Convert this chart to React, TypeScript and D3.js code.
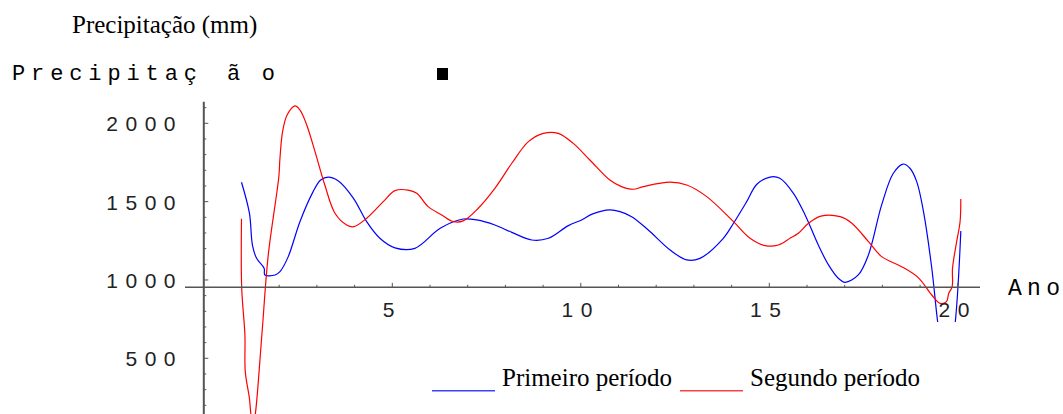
import React from "react";
import * as d3 from "d3";

// precipitação anual (mm) por ano
const primeiroPeriodo: [number, number][] = [
  [1.0, 1624], [1.21, 1426], [1.29, 1223], [1.4, 1138], [1.6, 1075], [1.62, 1032],
  [1.89, 1032], [2.02, 1053], [2.24, 1149], [2.55, 1372], [2.9, 1564], [3.1, 1638],
  [3.3, 1656], [3.57, 1632], [3.97, 1521], [4.32, 1372], [4.67, 1266], [5.07, 1205],
  [5.6, 1202], [6.27, 1330], [6.88, 1389], [7.24, 1383], [7.72, 1351], [8.17, 1304],
  [8.7, 1255], [9.14, 1266], [9.67, 1347], [10.02, 1383], [10.3, 1420], [10.77, 1447],
  [11.04, 1436], [11.35, 1404], [11.79, 1319], [12.37, 1191], [12.81, 1128], [13.16, 1138],
  [13.78, 1266], [14.05, 1362], [14.4, 1500], [14.67, 1611], [15.02, 1657], [15.28, 1649],
  [15.64, 1553], [15.95, 1415], [16.3, 1223], [16.57, 1096], [16.83, 1011], [17.01, 985],
  [17.36, 1032], [17.63, 1160], [17.98, 1479], [18.29, 1681], [18.55, 1740], [18.73, 1713],
  [18.91, 1628], [19.09, 1436], [19.31, 1075], [19.47, 724], [19.7, 350], [19.93, 724],
  [20.08, 1313],
];

const segundoPeriodo: [number, number][] = [
  [1.0, 1390], [1.005, 950], [1.09, 650], [1.1, 415], [1.21, 245], [1.26, 120],
  [1.31, 70], [1.37, 150], [1.54, 649], [1.71, 1160], [1.99, 1659], [2.02, 1777],
  [2.09, 1947], [2.21, 2053], [2.42, 2111], [2.55, 2085], [2.73, 1989], [2.95, 1819],
  [3.21, 1606], [3.48, 1426], [3.79, 1351], [3.98, 1340], [4.32, 1394], [4.76, 1500],
  [5.07, 1570], [5.42, 1574], [5.65, 1553], [5.95, 1468], [6.31, 1415], [6.62, 1372],
  [6.88, 1377], [7.28, 1458], [7.72, 1585], [8.17, 1745], [8.61, 1883], [9.01, 1936],
  [9.4, 1936], [9.8, 1872], [10.24, 1766], [10.77, 1638], [11.08, 1596], [11.39, 1579],
  [11.66, 1596], [12.37, 1624], [12.81, 1606], [13.34, 1532], [14.05, 1372], [14.49, 1266],
  [14.89, 1219], [15.24, 1223], [15.55, 1266], [15.77, 1298], [16.04, 1362], [16.37, 1408],
  [16.88, 1404], [17.19, 1362], [17.63, 1245], [17.98, 1149], [18.51, 1085], [18.95, 1015],
  [19.31, 904], [19.53, 851], [19.7, 862], [19.76, 915], [19.85, 957], [19.86, 1075],
  [19.97, 1245], [20.06, 1372], [20.08, 1517],
];

const xTickLabels = [5, 10, 15, 20];
const yTickLabels = [500, 1000, 1500, 2000];
const legendLabels = ["Primeiro período", "Segundo período"];

const W = 1063;
const H = 414;
const axisColor = "#555";
const digitFont = "'Liberation Sans', Arial, sans-serif";
const monoFont = "'Liberation Mono', 'Courier New', monospace";
const serifFont = "'Liberation Serif', 'Times New Roman', serif";

export default function App() {
  const x = d3.scaleLinear().domain([0, 20]).range([203.8, 957.8]);
  const y = d3.scaleLinear().domain([500, 2000]).range([358.3, 123.3]);
  const xAxisAt = 953;

  const line = d3
    .line<[number, number]>()
    .x((d) => x(d[0]))
    .y((d) => y(d[1]))
    .curve(d3.curveCatmullRom.alpha(0.5));

  const yMinor = d3.range(200, 2101, 100);
  const xMinor = d3.range(1, 21, 1);

  return (
    <svg
      width={W}
      height={H}
      style={{ position: "absolute", left: 0, top: 0, background: "#fff" }}
    >
      <text x={72} y={33} fontFamily={serifFont} fontSize={25} fill="#000">
        Precipitação (mm)
      </text>
      <text x={12} y={80} fontFamily={monoFont} fontSize={22} textLength={185} lengthAdjust="spacing" fill="#000">
        Precipitaç
      </text>
      <text x={227} y={80} fontFamily={monoFont} fontSize={22} textLength={48} lengthAdjust="spacing" fill="#000">
        ão
      </text>
      <rect x={437} y={68} width={11} height={12} fill="#000" />

      {/* curves */}
      <path d={line(primeiroPeriodo) || ""} fill="none" stroke="#0000ff" strokeWidth={1.2} />
      <path d={line(segundoPeriodo) || ""} fill="none" stroke="#ff0000" strokeWidth={1.2} />

      {/* y axis */}
      <line x1={x(0)} x2={x(0)} y1={101.7} y2={H} stroke={axisColor} strokeWidth={2} />
      {yMinor.map((v) => (
        <line
          key={"ym" + v}
          x1={x(0)}
          x2={x(0) + (v % 500 === 0 ? 4.5 : 2.5)}
          y1={y(v)}
          y2={y(v)}
          stroke={axisColor}
          strokeWidth={1}
        />
      ))}
      {yTickLabels.map((v) => (
        <text
          key={"yl" + v}
          x={183}
          y={y(v) + 8}
          textAnchor="end"
          fontFamily={digitFont}
          fontSize={21}
          letterSpacing={7.5}
          fill="#222"
        >
          {v}
        </text>
      ))}

      {/* x axis */}
      <line x1={185} x2={980} y1={y(xAxisAt)} y2={y(xAxisAt)} stroke={axisColor} strokeWidth={1.5} />
      {xMinor.map((t) => (
        <line
          key={"xm" + t}
          x1={x(t)}
          x2={x(t)}
          y1={y(xAxisAt)}
          y2={y(xAxisAt) - (t % 5 === 0 ? 4.5 : 2.5)}
          stroke={axisColor}
          strokeWidth={1}
        />
      ))}
      {xTickLabels.map((t) => (
        <text
          key={"xl" + t}
          x={x(t)}
          y={316.7}
          textAnchor="middle"
          fontFamily={digitFont}
          fontSize={21}
          letterSpacing={7.5}
          fill="#222"
        >
          {t}
        </text>
      ))}
      <text x={1008} y={295} fontFamily={monoFont} fontSize={23} textLength={52} lengthAdjust="spacing" fill="#000">
        Ano
      </text>

      {/* legend */}
      <rect x={420} y={322} width={580} height={H - 322} fill="#fff" />
      <line x1={432} x2={495} y1={390.7} y2={390.7} stroke="#4040ff" strokeWidth={1.4} />
      <text x={502} y={386} fontFamily={serifFont} fontSize={25} fill="#000">
        {legendLabels[0]}
      </text>
      <line x1={680} x2={743} y1={390.7} y2={390.7} stroke="#ff4040" strokeWidth={1.4} />
      <text x={750} y={386} fontFamily={serifFont} fontSize={25} fill="#000">
        {legendLabels[1]}
      </text>
    </svg>
  );
}
